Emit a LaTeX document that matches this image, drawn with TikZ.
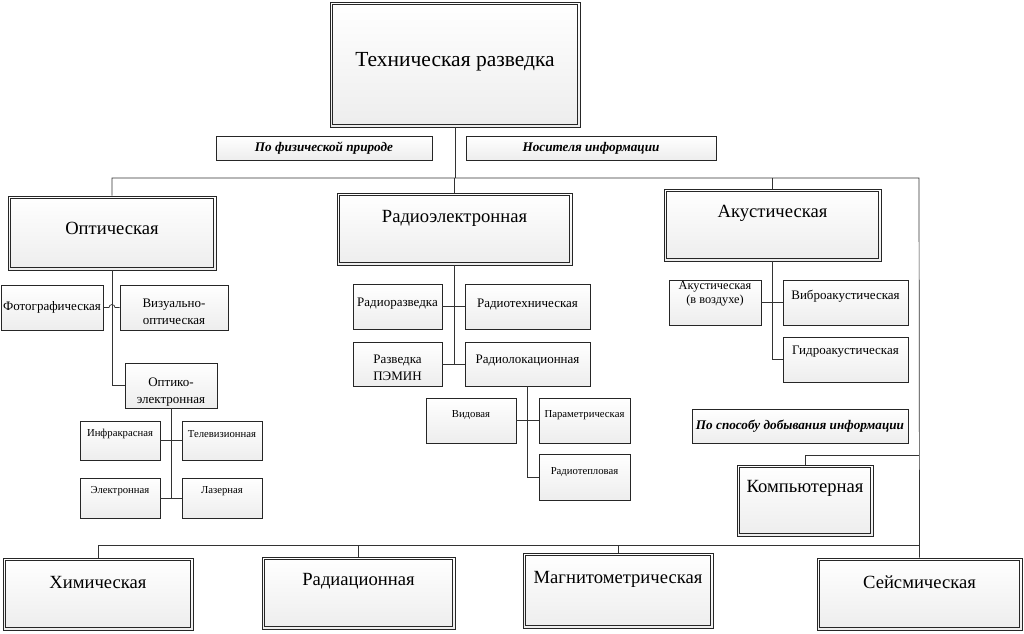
\documentclass[tikz,border=0pt]{standalone}
\usepackage{fontspec}
\setmainfont{Liberation Serif}
\usetikzlibrary{shadows}
\tikzset{
 ln/.style={draw=black!80, line width=0.7pt},
 boxbase/.style={draw=black!85, line width=0.7pt, top color=white, bottom color=black!7, inner sep=0pt, drop shadow={shadow xshift=1.3pt, shadow yshift=-1.3pt, opacity=0.18, fill=black!60}},
 bigbox/.style={boxbase, path picture={\draw[black!85, line width=0.7pt] ([shift={(2.4pt,-2.4pt)}]path picture bounding box.north west) rectangle ([shift={(-2.4pt,2.4pt)}]path picture bounding box.south east);}},
 smallbox/.style={boxbase},
 ttop/.style={font=\fontsize{21.5}{24}\selectfont, inner sep=0pt},
 tcat/.style={font=\fontsize{18.6}{22}\selectfont, inner sep=0pt},
 tmid/.style={font=\fontsize{13}{16.5}\selectfont, inner sep=0pt, align=center},
 tsml/.style={font=\fontsize{10.7}{13}\selectfont, inner sep=0pt, align=center},
 tlab/.style={font=\fontsize{13.2}{15}\selectfont\bfseries\itshape, inner sep=0pt},
}
\begin{document}
\begin{tikzpicture}[x=1pt,y=-1pt]
\useasboundingbox[fill=white] (0,0) rectangle (1024,633);
% boxes
\node[bigbox, minimum width=250pt, minimum height=125pt] (top) at (455,64.5) {};
\node[ttop] (top-t) at (455,62) {Техническая разведка};
\node[smallbox, minimum width=216pt, minimum height=24pt] (lab1) at (324,148) {};
\node[tlab] (lab1-t) at (324,148) {По физической природе};
\node[smallbox, minimum width=250pt, minimum height=24pt] (lab2) at (591,148) {};
\node[tlab] (lab2-t) at (591,148) {Носителя информации};

\node[bigbox, minimum width=208pt, minimum height=74pt] (opt) at (112,233) {};
\node[tcat] (opt-t) at (112,228) {Оптическая};
\node[bigbox, minimum width=235pt, minimum height=72pt] (radio) at (454.5,229) {};
\node[tcat] (radio-t) at (454.5,218) {Радиоэлектронная};
\node[bigbox, minimum width=217pt, minimum height=72pt] (acoust) at (772.5,225) {};
\node[tcat] (acoust-t) at (772.5,213) {Акустическая};

% optical subtree
\node[smallbox, minimum width=102pt, minimum height=45pt] (foto) at (52,307.5) {};
\node[tmid] (foto-t) at (52,307) {Фотографическая};
\node[smallbox, minimum width=108pt, minimum height=45pt] (viz) at (174,307.5) {};
\node[tmid] (viz-t) at (174,312) {Визуально-\\оптическая};
\node[smallbox, minimum width=92pt, minimum height=45pt] (optel) at (171,385.5) {};
\node[tmid] (optel-t) at (171,392) {Оптико-\\электронная};
\node[smallbox, minimum width=80pt, minimum height=39pt] (infra) at (120,440.5) {};
\node[tsml] (infra-t) at (120,434) {Инфракрасная};
\node[smallbox, minimum width=80pt, minimum height=39pt] (tele) at (222,440.5) {};
\node[tsml] (tele-t) at (222,434) {Телевизионная};
\node[smallbox, minimum width=80pt, minimum height=40pt] (elec) at (120,498) {};
\node[tsml] (elec-t) at (120,491) {Электронная};
\node[smallbox, minimum width=80pt, minimum height=40pt] (laser) at (222,498) {};
\node[tsml] (laser-t) at (222,491) {Лазерная};

% radio subtree
\node[smallbox, minimum width=89pt, minimum height=45pt] (radrazv) at (397.5,306.5) {};
\node[tmid] (radrazv-t) at (397.5,304) {Радиоразведка};
\node[smallbox, minimum width=125pt, minimum height=45pt] (radtech) at (527.5,306.5) {};
\node[tmid] (radtech-t) at (527.5,304) {Радиотехническая};
\node[smallbox, minimum width=89pt, minimum height=44pt] (pemin) at (397.5,364) {};
\node[tmid] (pemin-t) at (397.5,368) {Разведка\\ПЭМИН};
\node[smallbox, minimum width=125pt, minimum height=44pt] (radloc) at (527.5,364) {};
\node[tmid] (radloc-t) at (527.5,360) {Радиолокационная};
\node[smallbox, minimum width=90pt, minimum height=45pt] (vid) at (471,420.5) {};
\node[tsml] (vid-t) at (471,415) {Видовая};
\node[smallbox, minimum width=91pt, minimum height=45pt] (param) at (584.5,420.5) {};
\node[tsml] (param-t) at (584.5,415) {Параметрическая};
\node[smallbox, minimum width=91pt, minimum height=46pt] (radtep) at (584.5,477) {};
\node[tsml] (radtep-t) at (584.5,472) {Радиотепловая};

% acoustic subtree
\node[smallbox, minimum width=92pt, minimum height=45pt] (akvoz) at (715,302.5) {};
\node[tmid, font=\fontsize{12.3}{14}\selectfont] (akvoz-t) at (715,294) {Акустическая\\(в воздухе)};
\node[smallbox, minimum width=125pt, minimum height=45pt] (vibro) at (845.5,302.5) {};
\node[tmid] (vibro-t) at (845.5,296) {Виброакустическая};
\node[smallbox, minimum width=125pt, minimum height=45pt] (gidro) at (845.5,359.5) {};
\node[tmid] (gidro-t) at (845.5,352) {Гидроакустическая};
\node[smallbox, minimum width=216pt, minimum height=34pt] (sposob) at (800,426) {};
\node[tlab] (sposob-t) at (800,426) {По способу добывания информации};
\node[bigbox, minimum width=136pt, minimum height=71pt] (komp) at (805,500.5) {};
\node[tcat] (komp-t) at (805,488) {Компьютерная};

% bottom row
\node[bigbox, minimum width=190pt, minimum height=72pt] (him) at (98,594) {};
\node[tcat] (him-t) at (98,582) {Химическая};
\node[bigbox, minimum width=193pt, minimum height=72pt] (radiac) at (358.5,593) {};
\node[tcat] (radiac-t) at (358.5,581) {Радиационная};
\node[bigbox, minimum width=190pt, minimum height=75pt] (magn) at (618,590.5) {};
\node[tcat] (magn-t) at (618,579) {Магнитометрическая};
\node[bigbox, minimum width=205pt, minimum height=72pt] (seism) at (919.5,594) {};
\node[tcat] (seism-t) at (919.5,582) {Сейсмическая};

% connectors
\coordinate (busR) at (919,178);
\coordinate (bb) at (919,545);
\coordinate (kk) at (919,455);
\draw[ln] (top.south) -- (top.south |- busR);
\draw[ln] (opt.north) |- (busR) -- (seism.north);
\draw[ln] (radio.north) -- (radio.north |- busR);
\draw[ln] (acoust.north) -- (acoust.north |- busR);
\draw[ln] (him.north) |- (bb);
\draw[ln] (radiac.north) -- (radiac.north |- bb);
\draw[ln] (magn.north) -- (magn.north |- bb);
\draw[ln] (komp.north) |- (kk);

\draw[ln] (opt.south) |- (optel.west);
\draw[ln] (foto.east) -- (109,307.5) arc[start angle=180, end angle=360, radius=3] -- (viz.west);
\draw[ln] (optel.south) -- (optel.south |- elec.east);
\draw[ln] (infra.east) -- (tele.west);
\draw[ln] (elec.east) -- (laser.west);

\draw[ln] (radio.south) -- (radio.south |- radloc.west);
\draw[ln] (radrazv.east) -- (radtech.west);
\draw[ln] (pemin.east) -- (radloc.west);
\draw[ln] (radloc.south) |- (radtep.west);
\draw[ln] (vid.east) -- (param.west);

\draw[ln] (acoust.south) |- (gidro.west);
\draw[ln] (akvoz.east) -- (vibro.west);
\end{tikzpicture}
\end{document}
